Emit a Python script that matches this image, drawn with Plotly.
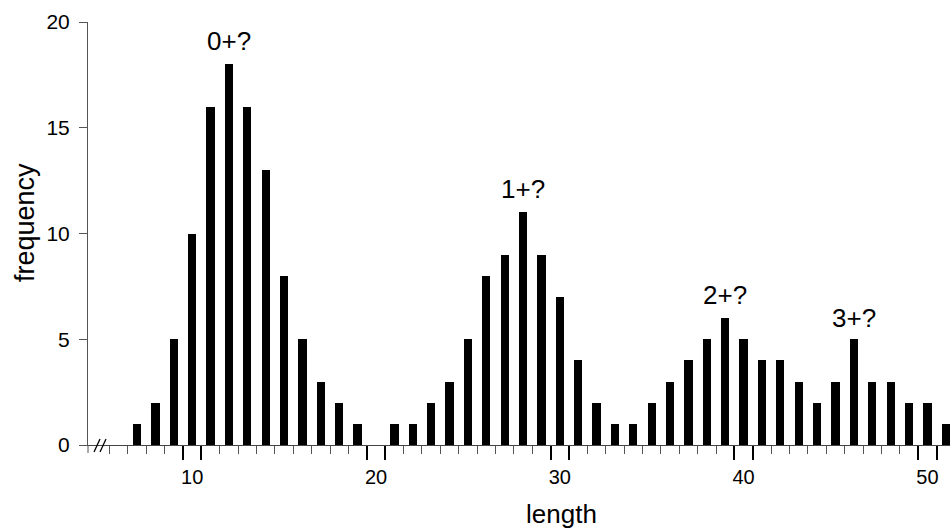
import plotly.graph_objects as go

# ---- data ----
lengths = list(range(7, 52))
frequency = [1, 2, 5, 10, 16, 18, 16, 13, 8, 5, 3, 2, 1, 0,
             1, 1, 2, 3, 5, 8, 9, 11, 9, 7, 4, 2, 1, 1,
             2, 3, 4, 5, 6, 5, 4, 4, 3, 2, 3, 5, 3, 3, 2, 2, 1]
x_ticks = [10, 20, 30, 40, 50]
y_ticks = [0, 5, 10, 15, 20]
peak_labels = ["0+?", "1+?", "2+?", "3+?"]
peak_lengths = [12, 28, 39, 46]
peak_label_y = [19.1, 12.1, 7.1, 6.0]

# bin edges for tick marks (long ticks bracket each labelled bin)
long_edges = [v for t in x_ticks for v in (t - 0.5, t + 0.5)]
short_edges = [k + 0.5 for k in range(5, 51) if (k + 0.5) not in long_edges]

FONT = "Liberation Sans, Arial, Helvetica, sans-serif"

W, H = 950, 528
ML, MT, MB = 88, 22, 83
PW, PH = W - ML, H - MT - MB

fig = go.Figure()
fig.add_trace(go.Bar(x=lengths, y=frequency, width=0.45,
                     marker=dict(color="black", line=dict(width=0)),
                     showlegend=False, hoverinfo="x+y"))
# dummy trace so the overlaid label axis is drawn
fig.add_trace(go.Scatter(x=[None], y=[None], xaxis="x2", showlegend=False,
                         hoverinfo="skip"))

XR = [4.33, 51.23]
fig.update_layout(
    width=W, height=H,
    margin=dict(l=ML, r=0, t=MT, b=MB, autoexpand=False),
    plot_bgcolor="white", paper_bgcolor="white",
    bargap=0,
    xaxis=dict(
        range=XR, showgrid=False, zeroline=False, automargin=False,
        showline=True, linecolor="#444", linewidth=1,
        tickmode="array", tickvals=long_edges, ticktext=[""] * len(long_edges),
        ticks="outside", ticklen=14, tickwidth=2, tickcolor="black",
        showticklabels=False,
        minor=dict(tickmode="array", tickvals=short_edges, ticks="outside",
                   ticklen=8, tickwidth=1, tickcolor="#555", showgrid=False),
    ),
    xaxis2=dict(
        overlaying="x", matches="x", anchor="y", side="bottom", automargin=False,
        range=XR, showgrid=False, zeroline=False, showline=False,
        tickmode="array", tickvals=x_ticks,
        ticks="outside", ticklen=14, tickcolor="rgba(0,0,0,0)",
        tickfont=dict(family=FONT, size=20, color="black"),
    ),
    yaxis=dict(
        range=[0, 20], showgrid=False, zeroline=False, automargin=False,
        showline=True, linecolor="#555", linewidth=1,
        tickmode="array", tickvals=y_ticks,
        ticks="outside", ticklen=8, tickwidth=1, tickcolor="#555",
        ticklabelstandoff=5,
        tickfont=dict(family=FONT, size=21, color="black"),
    ),
)

def px(xp):  # page pixel -> paper x
    return (xp - ML) / PW
def py(yp):  # page pixel -> paper y
    return (H - MB - yp) / PH

# axis titles
fig.add_annotation(xref="paper", yref="paper", x=px(561), y=py(514),
                   text="length", showarrow=False,
                   xanchor="center", yanchor="middle",
                   font=dict(family=FONT, size=26, color="black"))
fig.add_annotation(xref="paper", yref="paper", x=px(25), y=py(223),
                   text="frequency", showarrow=False,
                   textangle=-90, xanchor="center", yanchor="middle",
                   font=dict(family=FONT, size=27, color="black"))

for txt, xl, yl in zip(peak_labels, peak_lengths, peak_label_y):
    fig.add_annotation(x=xl, y=yl, text=txt, showarrow=False,
                       xanchor="center", yanchor="middle",
                       font=dict(family=FONT, size=26, color="black"))

# y-axis extension below zero and the axis-break marks
fig.add_shape(type="line", xref="paper", yref="paper", x0=0, x1=0,
              y0=0, y1=py(453), line=dict(color="#555", width=1))
for x_start in (94.0, 100.0):
    fig.add_shape(type="line", xref="paper", yref="paper",
                  x0=px(x_start), y0=py(452), x1=px(x_start + 6), y1=py(439),
                  line=dict(color="black", width=1.3))

fig.write_html("out.html",
               config={"displayModeBar": False},
               post_script="document.body.style.margin='0';"
                           "document.body.style.overflow='hidden';")
